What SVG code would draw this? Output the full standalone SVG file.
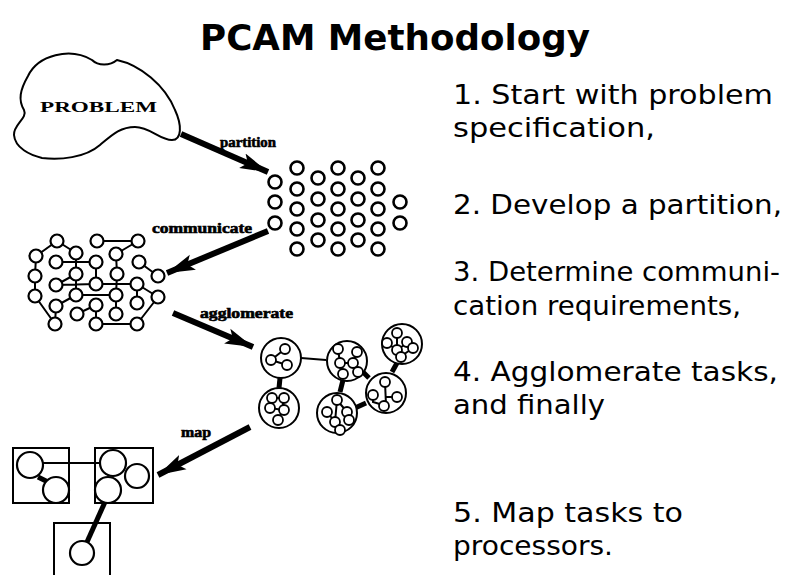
<svg xmlns="http://www.w3.org/2000/svg" width="798" height="575" viewBox="0 0 798 575">
<defs>
<style>
.title{font-family:"DejaVu Sans",sans-serif;font-weight:bold;font-size:36px;fill:#000}
.body{font-family:"DejaVu Sans",sans-serif;font-size:27px;fill:#000}
.lbl{font-family:"Liberation Serif",serif;font-weight:bold;font-size:14px;fill:#000;stroke:#000;stroke-width:0.6}
.prob{font-family:"Liberation Serif",serif;font-weight:bold;font-size:14px;fill:#000}
.arr{stroke:#000;stroke-width:6;fill:none;marker-end:url(#ah)}
.n{fill:#fff;stroke:#000;stroke-width:2.2}
.pn{fill:#fff;stroke:#000;stroke-width:2.6}
.e{stroke:#000;stroke-width:2;fill:none}
.te{stroke:#000;stroke-width:5;fill:none}
.big{fill:#fff;stroke:#000;stroke-width:2}
.sn{fill:#fff;stroke:#000;stroke-width:1.8}
.box{fill:none;stroke:#000;stroke-width:2}
</style>
<marker id="ah" markerUnits="userSpaceOnUse" markerWidth="30" markerHeight="20" refX="28" refY="10" orient="auto">
<path d="M0,2 L28,10 L0,18 L6,10 Z" fill="#000"/>
</marker>
</defs>
<rect width="798" height="575" fill="#fff"/>
<text class="title" x="395" y="50" text-anchor="middle" textLength="390" lengthAdjust="spacingAndGlyphs">PCAM Methodology</text>
<g id="steps">
<text class="body" x="453" y="104" textLength="320" lengthAdjust="spacingAndGlyphs">1. Start with problem</text>
<text class="body" x="453" y="137" textLength="202" lengthAdjust="spacingAndGlyphs">specification,</text>
<text class="body" x="453" y="214" textLength="329" lengthAdjust="spacingAndGlyphs">2. Develop a partition,</text>
<text class="body" x="453" y="281" textLength="327" lengthAdjust="spacingAndGlyphs">3. Determine communi-</text>
<text class="body" x="453" y="315" textLength="288" lengthAdjust="spacingAndGlyphs">cation requirements,</text>
<text class="body" x="453" y="381" textLength="325" lengthAdjust="spacingAndGlyphs">4. Agglomerate tasks,</text>
<text class="body" x="453" y="414" textLength="152" lengthAdjust="spacingAndGlyphs">and finally</text>
<text class="body" x="453" y="522" textLength="230" lengthAdjust="spacingAndGlyphs">5. Map tasks to</text>
<text class="body" x="453" y="555" textLength="160" lengthAdjust="spacingAndGlyphs">processors.</text>
</g>
<g id="problem">
<path d="M28,76 C38,55 70,47 92,60 C98,66 110,66 117,60 C140,65 165,85 175,110 C182,125 182,140 172,140 C160,140 150,127 135,127 C120,127 112,135 100,145 C85,158 60,160 42,158 C30,155 15,148 14,135 C13,125 28,118 24,110 C18,100 20,90 28,76 Z" fill="#fff" stroke="#000" stroke-width="2"/>
<text class="prob" x="40" y="112" textLength="117" lengthAdjust="spacingAndGlyphs">PROBLEM</text>
</g>
<g id="connectors">
<line class="arr" x1="181" y1="134" x2="268" y2="172"/>
<line class="arr" x1="268" y1="231" x2="167" y2="273"/>
<line class="arr" x1="173" y1="313" x2="253" y2="347"/>
<line class="arr" x1="250" y1="427" x2="158" y2="475"/>
<text class="lbl" x="220" y="147" textLength="56" lengthAdjust="spacingAndGlyphs">partition</text>
<text class="lbl" x="152" y="233" textLength="100" lengthAdjust="spacingAndGlyphs">communicate</text>
<text class="lbl" x="200" y="318" textLength="93" lengthAdjust="spacingAndGlyphs">agglomerate</text>
<text class="lbl" x="181" y="437" textLength="30" lengthAdjust="spacingAndGlyphs">map</text>
</g>
<g id="partition">
<circle class="pn" cx="275" cy="182" r="6.5"/><circle class="pn" cx="275" cy="202" r="6.5"/><circle class="pn" cx="275" cy="223" r="6.5"/>
<circle class="pn" cx="297" cy="168" r="6.5"/><circle class="pn" cx="297" cy="189" r="6.5"/><circle class="pn" cx="297" cy="209" r="6.5"/><circle class="pn" cx="297" cy="229" r="6.5"/><circle class="pn" cx="297" cy="249" r="6.5"/>
<circle class="pn" cx="318" cy="178" r="6.5"/><circle class="pn" cx="318" cy="199" r="6.5"/><circle class="pn" cx="318" cy="220" r="6.5"/><circle class="pn" cx="318" cy="240" r="6.5"/>
<circle class="pn" cx="338" cy="168" r="6.5"/><circle class="pn" cx="338" cy="189" r="6.5"/><circle class="pn" cx="338" cy="209" r="6.5"/><circle class="pn" cx="338" cy="229" r="6.5"/><circle class="pn" cx="338" cy="249" r="6.5"/>
<circle class="pn" cx="358" cy="178" r="6.5"/><circle class="pn" cx="358" cy="199" r="6.5"/><circle class="pn" cx="358" cy="220" r="6.5"/><circle class="pn" cx="358" cy="240" r="6.5"/>
<circle class="pn" cx="378" cy="168" r="6.5"/><circle class="pn" cx="378" cy="189" r="6.5"/><circle class="pn" cx="378" cy="209" r="6.5"/><circle class="pn" cx="378" cy="229" r="6.5"/><circle class="pn" cx="378" cy="249" r="6.5"/>
<circle class="pn" cx="400" cy="202" r="6.5"/><circle class="pn" cx="400" cy="223" r="6.5"/>
</g>
<g id="communicate">
<path class="e" d="M57,241 L36,256 M57,241 L76,253 M97,241 L138,241 M138,241 L116,254 M116,254 L117,274 M56,262 L96,262 M36,256 L35,276 M139,262 L158,276 M96,262 L96,284 M76,253 L76,274 M76,274 L56,285 M56,285 L96,284 M96,284 L137,284 M117,274 L116,295 M137,284 L137,303 M35,276 L35,296 M35,296 L55,324 M76,274 L76,295 M76,295 L56,306 M56,306 L55,324 M76,295 L116,295 M96,305 L77,314 M96,305 L96,324 M116,295 L116,314 M96,324 L137,324 M158,297 L137,324 M137,284 L158,297"/>
<circle class="n" cx="57" cy="241" r="6.5"/><circle class="n" cx="97" cy="241" r="6.5"/><circle class="n" cx="138" cy="241" r="6.5"/>
<circle class="n" cx="36" cy="256" r="6.5"/><circle class="n" cx="76" cy="253" r="6.5"/><circle class="n" cx="116" cy="254" r="6.5"/>
<circle class="n" cx="56" cy="262" r="6.5"/><circle class="n" cx="96" cy="262" r="6.5"/><circle class="n" cx="139" cy="262" r="6.5"/>
<circle class="n" cx="35" cy="276" r="6.5"/><circle class="n" cx="76" cy="274" r="6.5"/><circle class="n" cx="117" cy="274" r="6.5"/><circle class="n" cx="158" cy="276" r="6.5"/>
<circle class="n" cx="56" cy="285" r="6.5"/><circle class="n" cx="96" cy="284" r="6.5"/><circle class="n" cx="137" cy="284" r="6.5"/>
<circle class="n" cx="35" cy="296" r="6.5"/><circle class="n" cx="76" cy="295" r="6.5"/><circle class="n" cx="116" cy="295" r="6.5"/><circle class="n" cx="158" cy="297" r="6.5"/>
<circle class="n" cx="56" cy="306" r="6.5"/><circle class="n" cx="96" cy="305" r="6.5"/><circle class="n" cx="137" cy="303" r="6.5"/>
<circle class="n" cx="77" cy="314" r="6.5"/><circle class="n" cx="116" cy="314" r="6.5"/>
<circle class="n" cx="55" cy="324" r="6.5"/><circle class="n" cx="96" cy="324" r="6.5"/><circle class="n" cx="137" cy="324" r="6.5"/>
</g>
<g id="agglomerate">
<line class="e" x1="301" y1="358" x2="326" y2="360"/>
<line class="te" x1="280" y1="378" x2="279" y2="388"/>
<line class="te" x1="343" y1="380" x2="340" y2="392"/>
<line class="te" x1="363" y1="372" x2="369" y2="378"/>
<line class="te" x1="397" y1="363" x2="392" y2="372"/>
<line class="te" x1="355" y1="408" x2="366" y2="403"/>
<circle class="big" cx="281" cy="358" r="20"/>
<path class="e" d="M271,360 L285,349 M271,360 L287,365"/>
<circle class="sn" cx="285" cy="349" r="5"/><circle class="sn" cx="271" cy="360" r="5"/><circle class="sn" cx="287" cy="365" r="5"/>
<circle class="big" cx="279" cy="408" r="20"/>
<path class="e" d="M272,398 L283,398 L283,410 L278,420 M272,398 L270,408 L283,410"/>
<circle class="sn" cx="272" cy="398" r="5"/><circle class="sn" cx="284" cy="398" r="5"/><circle class="sn" cx="270" cy="408" r="5"/><circle class="sn" cx="284" cy="410" r="5"/><circle class="sn" cx="278" cy="420" r="5"/>
<circle class="big" cx="347" cy="361" r="20"/>
<path class="e" d="M338,349 L340,363 L353,363 L357,352 M340,363 L343,374 M353,363 L360,372"/>
<circle class="sn" cx="338" cy="349" r="5"/><circle class="sn" cx="357" cy="352" r="5"/><circle class="sn" cx="340" cy="363" r="5"/><circle class="sn" cx="353" cy="363" r="5"/><circle class="sn" cx="343" cy="374" r="5"/><circle class="sn" cx="358" cy="372" r="5"/>
<circle class="big" cx="402" cy="344" r="20"/>
<path class="e" d="M397,333 L397,350 L387,343 M397,350 L407,343 M397,350 L400,357 L413,348"/>
<circle class="sn" cx="397" cy="333" r="5"/><circle class="sn" cx="387" cy="343" r="5"/><circle class="sn" cx="407" cy="342" r="5"/><circle class="sn" cx="397" cy="350" r="5"/><circle class="sn" cx="413" cy="348" r="5"/><circle class="sn" cx="401" cy="357" r="5"/>
<circle class="big" cx="386" cy="393" r="20"/>
<path class="e" d="M385,382 L386,405 M373,395 L373,402 L383,405 M397,397 L386,397"/>
<circle class="sn" cx="385" cy="382" r="5"/><circle class="sn" cx="373" cy="395" r="5"/><circle class="sn" cx="397" cy="397" r="5"/><circle class="sn" cx="384" cy="406" r="5"/>
<circle class="big" cx="337" cy="413" r="20"/>
<path class="e" d="M337,400 L335,422 L340,430 M337,400 L347,412 L348,420 M327,412 L335,422"/>
<circle class="sn" cx="337" cy="400" r="5"/><circle class="sn" cx="327" cy="412" r="5"/><circle class="sn" cx="347" cy="412" r="5"/><circle class="sn" cx="335" cy="422" r="5"/><circle class="sn" cx="349" cy="420" r="5"/><circle class="sn" cx="340" cy="430" r="5"/>
</g>
<g id="map">
<rect class="box" x="13" y="448" width="56" height="55"/>
<rect class="box" x="95" y="448" width="58" height="55"/>
<path class="box" d="M54,576 L54,523 L110,523 L110,576"/>
<line class="e" x1="42" y1="463" x2="101" y2="463"/>
<line class="te" x1="38" y1="477" x2="48" y2="482"/>
<line class="te" x1="105" y1="502" x2="87" y2="542"/>
<circle class="n" cx="30" cy="465" r="13"/>
<circle class="n" cx="56" cy="490" r="13"/>
<circle class="n" cx="113" cy="463" r="13"/>
<circle class="n" cx="137" cy="476" r="12"/>
<circle class="n" cx="108" cy="490" r="13"/>
<circle class="n" cx="82" cy="553" r="12"/>
</g>
</svg>
